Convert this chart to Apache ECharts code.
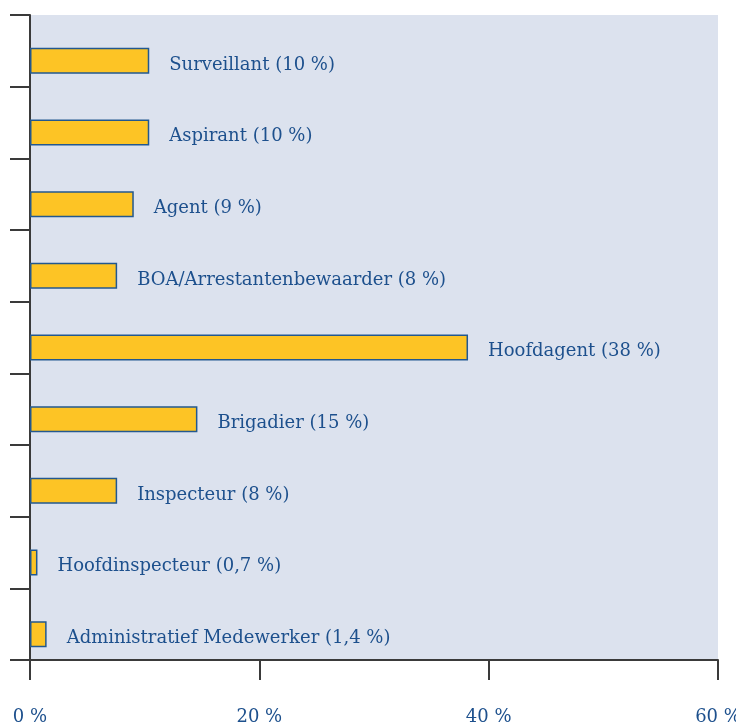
<!DOCTYPE html>
<html>
<head>
<meta charset="utf-8">
<script src="https://cdn.jsdelivr.net/npm/echarts@6/dist/echarts.min.js"></script>
<style>
  html, body { margin: 0; padding: 0; background: #fff; }
  #myChart { width: 736px; height: 728px; }
</style>
</head>
<body>
<div id="myChart"></div>
<script>
  // functies en aandeel (%)
  var functies = ['Surveillant', 'Aspirant', 'Agent', 'BOA/Arrestantenbewaarder', 'Hoofdagent',
                  'Brigadier', 'Inspecteur', 'Hoofdinspecteur', 'Administratief Medewerker'];
  var aandeel = [10.4, 10.4, 9.05, 7.6, 38.2, 14.6, 7.6, 0.65, 1.45];
  var labelTekst = ['10 %', '10 %', '9 %', '8 %', '38 %', '15 %', '8 %', '0,7 %', '1,4 %'];
  var xTicks = [0, 20, 40, 60];

  var blauw = '#1d508d';
  var font = 'DejaVu Serif';

  var myChart = echarts.init(document.getElementById('myChart'));
  var option = {
    animation: false,
    grid: [
      { left: 30, right: 18, top: 15, bottom: 68, show: true, backgroundColor: '#dce2ee', borderWidth: 0, outerBoundsMode: 'none' },
      // bars staan iets lager dan het midden van de band
      { left: 30, right: 18, top: 25, bottom: 58, outerBoundsMode: 'none' }
    ],
    xAxis: [
      {
        gridIndex: 0, type: 'value', min: xTicks[0], max: xTicks[xTicks.length - 1], interval: 20,
        axisLine: { show: true, lineStyle: { color: '#3a3a3a', width: 2 } },
        axisTick: { show: true, inside: false, length: 20, lineStyle: { color: '#3a3a3a', width: 2 } },
        splitLine: { show: false },
        axisLabel: {
          margin: 48, color: blauw, fontFamily: font, fontSize: 18,
          formatter: function (v) { return v + ' %'; }
        }
      },
      { gridIndex: 1, type: 'value', min: 0, max: 60, show: false }
    ],
    yAxis: [
      {
        gridIndex: 0, type: 'category', data: functies, inverse: true,
        axisLine: { show: true, lineStyle: { color: '#3a3a3a', width: 2 } },
        axisTick: { show: true, length: 20, lineStyle: { color: '#3a3a3a', width: 2 } },
        axisLabel: { show: false },
        splitLine: { show: false }
      },
      { gridIndex: 1, type: 'category', data: functies, inverse: true, show: false }
    ],
    series: [
      {
        type: 'bar', xAxisIndex: 1, yAxisIndex: 1,
        data: aandeel, barWidth: 26,
        itemStyle: { color: '#fdc425', borderColor: '#23588f', borderWidth: 1.5 },
        label: {
          show: true, position: 'right', distance: 20, offset: [0, 4],
          color: blauw, fontFamily: font, fontSize: 18,
          formatter: function (p) { return functies[p.dataIndex] + ' (' + labelTekst[p.dataIndex] + ')'; }
        }
      }
    ]
  };
  myChart.setOption(option);
</script>
</body>
</html>
